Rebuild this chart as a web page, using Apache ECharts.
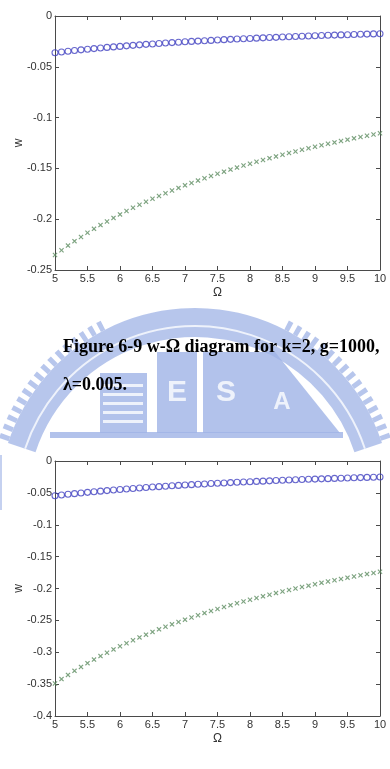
<!DOCTYPE html>
<html>
<head>
<meta charset="utf-8">
<script src="https://cdn.jsdelivr.net/npm/echarts@6/dist/echarts.min.js"></script>
<style>
html,body{margin:0;padding:0;background:#fff;}
#c{width:390px;height:769px;}
</style>
</head>
<body>
<div id="c"></div>
<script>
// Omega values (x)
var omega = [5.0,5.1,5.2,5.3,5.4,5.5,5.6,5.7,5.8,5.9,6.0,6.1,6.2,6.3,6.4,6.5,6.6,6.7,6.8,6.9,7.0,7.1,7.2,7.3,7.4,7.5,7.6,7.7,7.8,7.9,8.0,8.1,8.2,8.3,8.4,8.5,8.6,8.7,8.8,8.9,9.0,9.1,9.2,9.3,9.4,9.5,9.6,9.7,9.8,9.9,10.0];

// Top chart: circles (blue) and crosses (green)
var top_circle = [-0.0361,-0.0354,-0.0347,-0.0340,-0.0333,-0.0327,-0.0321,-0.0315,-0.0309,-0.0304,-0.0299,-0.0294,-0.0289,-0.0284,-0.0279,-0.0275,-0.0270,-0.0266,-0.0262,-0.0258,-0.0254,-0.0250,-0.0247,-0.0243,-0.0240,-0.0236,-0.0233,-0.0230,-0.0227,-0.0224,-0.0221,-0.0218,-0.0215,-0.0212,-0.0210,-0.0207,-0.0204,-0.0202,-0.0199,-0.0197,-0.0195,-0.0192,-0.0190,-0.0188,-0.0186,-0.0184,-0.0182,-0.0180,-0.0178,-0.0176,-0.0174];
var top_cross = [-0.2352,-0.2305,-0.2260,-0.2216,-0.2175,-0.2134,-0.2095,-0.2058,-0.2022,-0.1987,-0.1953,-0.1920,-0.1888,-0.1858,-0.1828,-0.1799,-0.1771,-0.1744,-0.1718,-0.1692,-0.1667,-0.1643,-0.1620,-0.1597,-0.1575,-0.1553,-0.1532,-0.1512,-0.1492,-0.1472,-0.1454,-0.1435,-0.1417,-0.1399,-0.1382,-0.1365,-0.1349,-0.1333,-0.1317,-0.1302,-0.1287,-0.1272,-0.1258,-0.1244,-0.1230,-0.1217,-0.1204,-0.1191,-0.1178,-0.1166,-0.1154];

// Bottom chart
var bot_circle = [-0.0545,-0.0533,-0.0522,-0.0512,-0.0501,-0.0492,-0.0482,-0.0473,-0.0464,-0.0455,-0.0447,-0.0439,-0.0431,-0.0424,-0.0416,-0.0409,-0.0402,-0.0396,-0.0389,-0.0383,-0.0377,-0.0371,-0.0365,-0.0360,-0.0354,-0.0349,-0.0344,-0.0339,-0.0334,-0.0329,-0.0325,-0.0320,-0.0316,-0.0311,-0.0307,-0.0303,-0.0299,-0.0295,-0.0291,-0.0287,-0.0284,-0.0280,-0.0277,-0.0273,-0.0270,-0.0266,-0.0263,-0.0260,-0.0257,-0.0254,-0.0251];
var bot_cross = [-0.3490,-0.3421,-0.3355,-0.3292,-0.3230,-0.3171,-0.3115,-0.3060,-0.3007,-0.2955,-0.2906,-0.2858,-0.2812,-0.2767,-0.2724,-0.2681,-0.2641,-0.2601,-0.2562,-0.2525,-0.2489,-0.2454,-0.2419,-0.2386,-0.2354,-0.2322,-0.2291,-0.2261,-0.2232,-0.2204,-0.2176,-0.2149,-0.2123,-0.2097,-0.2072,-0.2047,-0.2023,-0.2000,-0.1977,-0.1955,-0.1933,-0.1911,-0.1890,-0.1870,-0.1850,-0.1830,-0.1811,-0.1792,-0.1774,-0.1756,-0.1738];

// Axis ranges / ticks
var xRange = {min: 5, max: 10, interval: 0.5};
var yTop = {min: -0.25, max: 0, interval: 0.05};
var yBot = {min: -0.4, max: 0, interval: 0.05};

var captionLine1 = 'Figure 6-9 w-\u03A9 diagram for k=2, g=1000,';
var captionLine2 = '\u03BB=0.005.';
var xName = '\u03A9';
var yName = 'w';

var FRAME = '#4a4a4a';
var LABEL = '#333';
var FONT = '"Liberation Sans", Arial, sans-serif';
var BLUE = '#4040c0';
var GREEN = '#5c8c60';
var WM = '#9fb3e6';
var WM_LIGHT = '#eef2fb';

function pairs(xs, ys){ return xs.map(function(x,i){ return [x, ys[i]]; }); }

function xAxisMain(grid){
  return {type:'value', gridIndex:grid, min:xRange.min, max:xRange.max, interval:xRange.interval,
    name:xName, nameLocation:'middle', nameGap:17, nameMoveOverlap:false,
    nameTextStyle:{color:LABEL, fontFamily:FONT, fontSize:12},
    axisLine:{show:true, onZero:false, lineStyle:{color:FRAME, width:1}},
    axisTick:{show:true, inside:true, length:4, lineStyle:{color:FRAME}},
    axisLabel:{color:LABEL, fontFamily:FONT, fontSize:11, margin:3},
    splitLine:{show:false}};
}
function xAxisMirror(grid){
  return {type:'value', gridIndex:grid, position:'top', min:xRange.min, max:xRange.max, interval:xRange.interval,
    axisLine:{show:true, onZero:false, lineStyle:{color:FRAME, width:1}},
    axisTick:{show:true, inside:true, length:4, lineStyle:{color:FRAME}},
    axisLabel:{show:false}, splitLine:{show:false}};
}
function yAxisMain(grid, r){
  return {type:'value', gridIndex:grid, min:r.min, max:r.max, interval:r.interval,
    name:yName, nameLocation:'middle', nameGap:30, nameRotate:90, nameMoveOverlap:false,
    nameTextStyle:{color:LABEL, fontFamily:FONT, fontSize:12},
    axisLine:{show:true, onZero:false, lineStyle:{color:FRAME, width:1}},
    axisTick:{show:true, inside:true, length:4, lineStyle:{color:FRAME}},
    axisLabel:{color:LABEL, fontFamily:FONT, fontSize:11, margin:3},
    splitLine:{show:false}};
}
function yAxisMirror(grid, r){
  return {type:'value', gridIndex:grid, position:'right', min:r.min, max:r.max, interval:r.interval,
    axisLine:{show:true, onZero:false, lineStyle:{color:FRAME, width:1}},
    axisTick:{show:true, inside:true, length:4, lineStyle:{color:FRAME}},
    axisLabel:{show:false}, splitLine:{show:false}};
}

var crossPath = 'path://M0,1.6L1.6,0L5,3.4L8.4,0L10,1.6L6.6,5L10,8.4L8.4,10L5,6.6L1.6,10L0,8.4L3.4,5Z';

function circleSeries(xi, yi, data){
  return {type:'scatter', xAxisIndex:xi, yAxisIndex:yi, data:data, symbol:'circle', symbolSize:6,
    itemStyle:{color:'rgba(0,0,0,0)', borderColor:BLUE, borderWidth:1.1}, z:5, silent:true};
}
function crossSeries(xi, yi, data){
  return {type:'scatter', xAxisIndex:xi, yAxisIndex:yi, data:data, symbol:crossPath, symbolSize:5,
    itemStyle:{color:GREEN}, z:5, silent:true};
}

var chart = echarts.init(document.getElementById('c'), null, {renderer:'canvas'});

var CX = 195, CY = 505;
var watermark = [
  {type:'rect', shape:{x:0, y:290, width:390, height:150}, style:{fill:'#fff'}, z:-11, silent:true},
  {type:'sector', shape:{cx:CX, cy:CY, r0:168, r:197, startAngle:Math.PI+0.32, endAngle:2*Math.PI-0.32}, style:{fill:WM, opacity:0.75}, z:-10, silent:true},
  {type:'arc', shape:{cx:CX, cy:CY, r:179, startAngle:Math.PI+0.32, endAngle:2*Math.PI-0.32}, style:{stroke:WM_LIGHT, lineWidth:2, fill:null}, z:-9, silent:true},
  {type:'arc', shape:{cx:CX, cy:CY, r:202, startAngle:Math.PI+0.33, endAngle:Math.PI+1.1}, style:{stroke:WM, lineWidth:10, fill:null, lineDash:[5,5], opacity:0.75}, z:-10, silent:true},
  {type:'arc', shape:{cx:CX, cy:CY, r:202, startAngle:2*Math.PI-1.1, endAngle:2*Math.PI-0.33}, style:{stroke:WM, lineWidth:10, fill:null, lineDash:[5,5], opacity:0.75}, z:-10, silent:true},
  {type:'rect', shape:{x:100, y:373, width:47, height:60}, style:{fill:WM, opacity:0.8}, z:-8, silent:true},
  {type:'rect', shape:{x:157, y:352, width:40, height:81}, style:{fill:WM, opacity:0.8}, z:-8, silent:true},
  {type:'rect', shape:{x:203, y:352, width:47, height:81}, style:{fill:WM, opacity:0.8}, z:-8, silent:true},
  {type:'polygon', shape:{points:[[250,352],[275,352],[340,433],[250,433]]}, style:{fill:WM, opacity:0.8}, z:-8, silent:true},
  {type:'rect', shape:{x:50, y:432, width:293, height:6}, style:{fill:WM, opacity:0.8}, z:-8, silent:true},
  {type:'text', style:{x:177, y:393, text:'E', fill:WM_LIGHT, font:'bold 30px "Liberation Sans", Arial', align:'center', verticalAlign:'middle'}, z:-7, silent:true},
  {type:'text', style:{x:226, y:393, text:'S', fill:WM_LIGHT, font:'bold 30px "Liberation Sans", Arial', align:'center', verticalAlign:'middle'}, z:-7, silent:true},
  {type:'text', style:{x:282, y:402, text:'A', fill:WM_LIGHT, font:'bold 24px "Liberation Sans", Arial', align:'center', verticalAlign:'middle'}, z:-7, silent:true},
  {type:'rect', shape:{x:0, y:455, width:2, height:55}, style:{fill:WM, opacity:0.6}, z:-8, silent:true}
];
[384,393,402,411,420].forEach(function(yy){
  watermark.push({type:'rect', shape:{x:103, y:yy, width:40, height:3}, style:{fill:WM_LIGHT}, z:-7, silent:true});
});

var option = {
  animation:false,
  backgroundColor:'#fff',
  grid:[
    {left:55, right:10, top:16, height:254, containLabel:false},
    {left:55, right:10, top:461, height:255, containLabel:false}
  ],
  xAxis:[xAxisMain(0), xAxisMirror(0), xAxisMain(1), xAxisMirror(1)],
  yAxis:[yAxisMain(0, yTop), yAxisMirror(0, yTop), yAxisMain(1, yBot), yAxisMirror(1, yBot)],
  series:[
    circleSeries(0, 0, pairs(omega, top_circle)),
    crossSeries(0, 0, pairs(omega, top_cross)),
    circleSeries(2, 2, pairs(omega, bot_circle)),
    crossSeries(2, 2, pairs(omega, bot_cross))
  ],
  graphic: watermark.concat([
    {type:'text', style:{x:63, y:338, text:captionLine1, fill:'#000', font:'bold 18px "Liberation Serif", "Times New Roman", serif', verticalAlign:'alphabetic'}, z:10, silent:true},
    {type:'text', style:{x:63, y:376, text:captionLine2, fill:'#000', font:'bold 18px "Liberation Serif", "Times New Roman", serif', verticalAlign:'alphabetic'}, z:10, silent:true}
  ])
};
chart.setOption(option);
</script>
</body>
</html>
